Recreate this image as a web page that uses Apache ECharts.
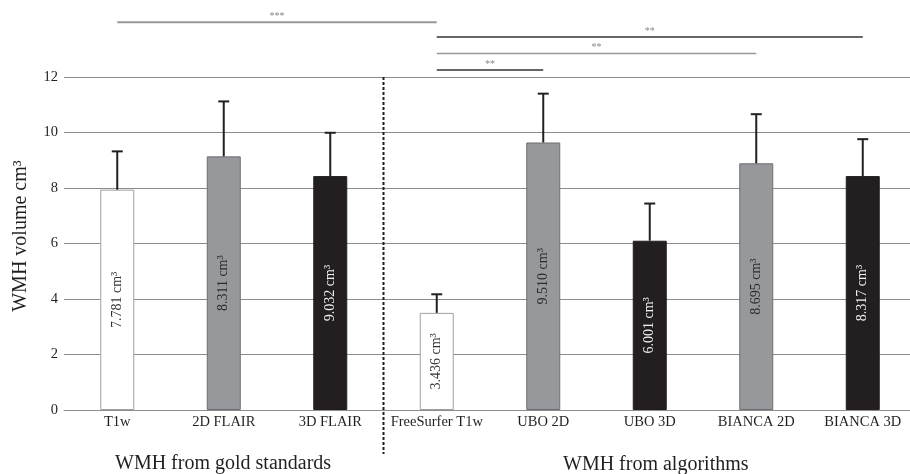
<!DOCTYPE html>
<html>
<head>
<meta charset="utf-8">
<script src="https://cdn.jsdelivr.net/npm/echarts@6/dist/echarts.min.js"></script>
<style>
html,body{margin:0;padding:0;background:#fff;overflow:hidden;width:910px;height:474px;}
#c{width:916px;height:474px;}
</style>
</head>
<body>
<div id="c"></div>
<script>
// ---- data ----
var categories = ['T1w', '2D FLAIR', '3D FLAIR', 'FreeSurfer T1w', 'UBO 2D', 'UBO 3D', 'BIANCA 2D', 'BIANCA 3D'];
var means = [7.94, 9.14, 8.43, 3.50, 9.64, 6.10, 8.89, 8.43];
var errorTops = [9.32, 11.12, 9.99, 4.17, 11.40, 7.44, 10.66, 9.76];
var barLabels = ['7.781 cm³', '8.311 cm³', '9.032 cm³', '3.436 cm³', '9.510 cm³', '6.001 cm³', '8.695 cm³', '8.317 cm³'];
var yTicks = [0, 2, 4, 6, 8, 10, 12];
var sigFrom = [0, 3, 3, 3];
var sigTo = [3, 7, 6, 4];
var sigLevel = [13.97, 13.44, 12.85, 12.25];
var sigText = ['***', '**', '**', '**'];
var groupNames = ['WMH from gold standards', 'WMH from algorithms'];
var yTitle = 'WMH volume cm³';

// ---- styles ----
var FONT = 'Liberation Serif';
var barKind = ['w', 'g', 'k', 'w', 'g', 'k', 'g', 'k'];
var kindStyle = {
  w: {fill: '#ffffff', border: '#a0a0a0', text: '#333333'},
  g: {fill: '#97989c', border: '#6d6e71', text: '#2b2b2b'},
  k: {fill: '#231f20', border: '#231f20', text: '#f2f2f2'}
};
var sigColor = ['#999999', '#333333', '#999999', '#333333'];
var sigWidth = [2, 1.5, 1.5, 1.5];

var barData = means.map(function (v, i) {
  var s = kindStyle[barKind[i]];
  return {
    value: v,
    itemStyle: {color: s.fill, borderColor: s.border, borderWidth: 1},
    label: {color: s.text}
  };
});

var errData = means.map(function (v, i) { return [i, v, errorTops[i]]; });
var sigData = sigFrom.map(function (f, i) { return [f, sigTo[i], sigLevel[i], i]; });

var chart = echarts.init(document.getElementById('c'));
chart.setOption({
  animation: false,
  backgroundColor: '#ffffff',
  grid: {left: 64, right: 0, top: 77, bottom: 64, containLabel: false},
  xAxis: {
    type: 'category',
    data: categories,
    axisLine: {lineStyle: {color: '#8c8c8c', width: 1}},
    axisTick: {show: false},
    axisLabel: {fontFamily: FONT, fontSize: 14.5, color: '#231f20', margin: 5, interval: 0}
  },
  yAxis: {
    type: 'value',
    min: yTicks[0],
    max: yTicks[yTicks.length - 1],
    interval: yTicks[1] - yTicks[0],
    axisLine: {show: false},
    axisTick: {show: false},
    splitLine: {lineStyle: {color: '#8c8c8c', width: 1}},
    axisLabel: {fontFamily: FONT, fontSize: 14.5, color: '#231f20', margin: 6}
  },
  graphic: [
    {type: 'text', x: 21, y: 236, rotation: Math.PI / 2,
     style: {text: yTitle, font: '20px "Liberation Serif"', fill: '#231f20', align: 'center', verticalAlign: 'middle'}},
    {type: 'text', left: 223 - 108, top: 454,
     style: {text: groupNames[0], font: '20px "Liberation Serif"', fill: '#231f20'}},
    {type: 'text', left: 656 - 93, top: 455,
     style: {text: groupNames[1], font: '20px "Liberation Serif"', fill: '#231f20'}}
  ],
  series: [
    {
      type: 'bar',
      data: barData,
      barWidth: 34,
      label: {
        show: true,
        position: 'inside',
        rotate: 90,
        fontFamily: FONT,
        fontSize: 14,
        formatter: function (p) { return barLabels[p.dataIndex]; }
      },
      z: 2
    },
    {
      type: 'custom',
      data: errData,
      z: 3,
      renderItem: function (params, api) {
        var i = api.value(0);
        var p0 = api.coord([i, api.value(1)]);
        var p1 = api.coord([i, api.value(2)]);
        var hw = 5.5;
        return {
          type: 'group',
          children: [
            {type: 'line', shape: {x1: p0[0], y1: p0[1], x2: p1[0], y2: p1[1]},
             style: {stroke: '#231f20', lineWidth: 2}},
            {type: 'line', shape: {x1: p1[0] - hw, y1: p1[1], x2: p1[0] + hw, y2: p1[1]},
             style: {stroke: '#231f20', lineWidth: 2}}
          ]
        };
      }
    },
    {
      type: 'custom',
      data: sigData,
      clip: false,
      z: 3,
      renderItem: function (params, api) {
        var k = api.value(3);
        var a = api.coord([api.value(0), api.value(2)]);
        var b = api.coord([api.value(1), api.value(2)]);
        return {
          type: 'group',
          children: [
            {type: 'line', shape: {x1: a[0], y1: a[1], x2: b[0], y2: b[1]},
             style: {stroke: sigColor[k], lineWidth: sigWidth[k]}},
            {type: 'text', style: {x: (a[0] + b[0]) / 2, y: a[1] - 6, text: sigText[k],
              fill: '#888888', font: '10px "Liberation Serif"', align: 'center', verticalAlign: 'middle'}}
          ]
        };
      }
    },
    {
      type: 'custom',
      data: [[2, 3]],
      clip: false,
      z: 4,
      renderItem: function (params, api) {
        var a = api.coord([api.value(0), yTicks[yTicks.length - 1]]);
        var b = api.coord([api.value(1), yTicks[0]]);
        var x = (a[0] + b[0]) / 2;
        return {type: 'line', shape: {x1: x, y1: a[1], x2: x, y2: b[1] + 44},
          style: {stroke: '#231f20', lineWidth: 2, lineDash: [3, 2]}};
      }
    }
  ]
});
</script>
</body>
</html>
